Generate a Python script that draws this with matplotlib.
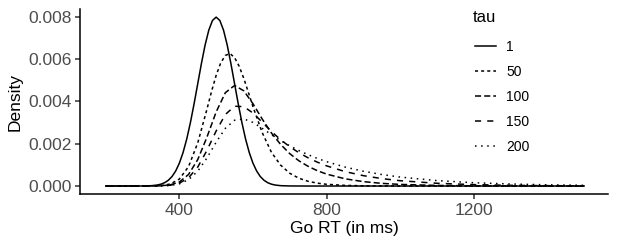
import matplotlib
matplotlib.use("Agg")
import matplotlib.pyplot as plt

plt.rcParams["font.family"] = ["Liberation Sans", "DejaVu Sans"]

# Go RT grid (ms) and densities, one list per tau
rt = [200, 250, 300, 325, 350, 375, 400, 425, 450, 475, 500, 525, 550, 575,
      600, 625, 650, 675, 700, 725, 750, 775, 800, 850, 900, 950, 1000,
      1100, 1200, 1300, 1400, 1500]

# the narrow tau = 1 and tau = 50 peaks are read on a finer grid
rt_tau1 = [200, 300, 325, 340, 350, 360, 370, 380, 390, 400, 410, 420, 430,
           440, 450, 460, 470, 480, 490, 500, 510, 520, 530, 540, 550, 560,
           570, 580, 590, 600, 610, 620, 630, 640, 650, 660, 675, 700, 750,
           1500]
dens_tau1 = [0, 0.000003, 0.000017, 0.0000477, 0.0000886, 0.000158,
             0.000272, 0.000448, 0.00071, 0.00108, 0.001579, 0.002218,
             0.002995, 0.003884, 0.004839, 0.005794, 0.006664, 0.007365,
             0.007821, 0.007979, 0.007821, 0.007365, 0.006664, 0.005794,
             0.004839, 0.003884, 0.002995, 0.002218, 0.001579, 0.00108,
             0.00071, 0.000448, 0.000272, 0.000158, 0.0000886, 0.0000477,
             0.000017, 0.000003, 0, 0]

rt_tau50 = [200, 250, 300, 325, 350, 375, 400, 425, 450, 475, 487.5, 500,
            512.5, 525, 537.5, 550, 562.5, 575, 587.5, 600, 625, 650, 675,
            700, 725, 750, 775, 800, 850, 900, 950, 1000, 1500]
dens_tau50 = [0, 0, 0, 0.000004, 0.000021, 0.000094, 0.000329, 0.000918,
              0.00204, 0.00363, 0.00447, 0.00523, 0.00582, 0.00617, 0.00626,
              0.00607, 0.00566, 0.00509, 0.00443, 0.00375, 0.00253, 0.0016,
              0.00099, 0.000603, 0.000366, 0.000222, 0.000135, 0.000082,
              0.00003, 0.000011, 0.000004, 0.000001, 0]

dens_tau100 = [0, 0, 0, 0.000002, 0.000012, 0.000053, 0.000191, 0.000546,
               0.00125, 0.00231, 0.00350, 0.00441, 0.00475, 0.00450, 0.00389,
               0.00317, 0.00251, 0.00197, 0.00153, 0.00119, 0.00093,
               0.000724, 0.000564, 0.000342, 0.000208, 0.000126, 0.000076,
               0.000028, 0.00001, 0.000004, 0.000001, 0]
dens_tau150 = [0, 0, 0, 0.000001, 0.000008, 0.0000375, 0.000135, 0.000388,
               0.000897, 0.001685, 0.00260, 0.00338, 0.00377, 0.00375,
               0.00345, 0.00302, 0.00258, 0.00219, 0.001858, 0.001573,
               0.001331, 0.001127, 0.000954, 0.000683, 0.00049, 0.000351,
               0.000251, 0.000129, 0.000066, 0.000034, 0.0000175, 0.000009]
dens_tau200 = [0, 0, 0, 0.000001, 0.000006, 0.0000287, 0.000104, 0.000301,
               0.0007, 0.001325, 0.00207, 0.002726, 0.003107, 0.003171,
               0.003004, 0.002728, 0.00243, 0.00215, 0.001898, 0.001675,
               0.001478, 0.001304, 0.001151, 0.000897, 0.000698, 0.000544,
               0.000423, 0.000257, 0.000156, 0.000095, 0.000057, 0.000035]

tau_labels = ["1", "50", "100", "150", "200"]
xs = [rt_tau1, rt_tau50, rt, rt, rt]
series = [dens_tau1, dens_tau50, dens_tau100, dens_tau150, dens_tau200]
dash_styles = ["solid", (0, (2, 2)), (0, (4, 2)), (0, (4, 4)), (0, (1, 3))]

fig = plt.figure(figsize=(6.17, 2.47), dpi=100)
ax = fig.add_axes([0.1297, 0.2126, 0.8557, 0.7524])

for x, dens, lab, ls in zip(xs, series, tau_labels, dash_styles):
    ax.plot(x, dens, color="black", lw=1.1, linestyle=ls, label=lab)

ax.set_xlim(130, 1565)
ax.set_ylim(-0.0004, 0.00838)
ax.set_xticks([400, 800, 1200])
ax.set_yticks([0, 0.002, 0.004, 0.006, 0.008])
ax.set_yticklabels(["0.000", "0.002", "0.004", "0.006", "0.008"])

for side in ["top", "right"]:
    ax.spines[side].set_visible(False)
for side in ["left", "bottom"]:
    ax.spines[side].set_linewidth(1.1)
ax.tick_params(axis="both", length=3.5, width=1.1, color="#333333",
               labelsize=12.5, labelcolor="#4D4D4D", pad=2.5)

ax.set_xlabel("Go RT (in ms)", fontsize=12.5, labelpad=2)
ax.set_ylabel("Density", fontsize=12.5, labelpad=4)

fig.text(473 / 617, 1 - 18 / 247, "tau", fontsize=12, ha="left", va="center")
ax.legend(loc="upper left", bbox_to_anchor=(475 / 617, 1 - 40 / 247),
          bbox_transform=fig.transFigure, frameon=False, fontsize=10,
          handlelength=1.5, handletextpad=0.74, labelspacing=0.79,
          borderaxespad=0, borderpad=0)

fig.savefig("out.png", dpi=100)
